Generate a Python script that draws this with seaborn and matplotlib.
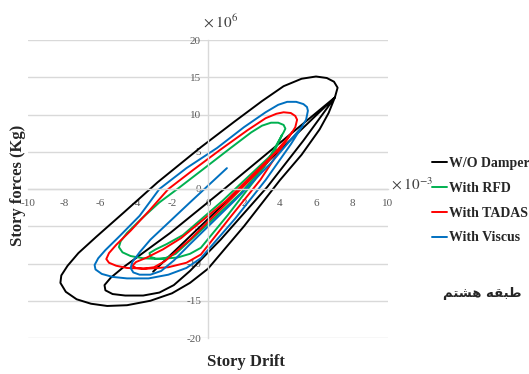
import pandas as pd
import matplotlib
matplotlib.use('Agg')
import matplotlib.pyplot as plt
import seaborn as sns

# Lazos de histéresis (drift x1e-3, fuerza x1e6)
wo_x = [-3.05, 7.05, 5.0, 3.0, 0.5, -2.1, -3.4, -4.7, -5.4, -5.75, -5.7, -5.3, -4.6, -3.6, -2.7, -1.9, -1.0, 0.7, 3.3,
        5.3, 7.05,
        6.7, 6.2, 5.2, 4.0, 2.0, 0.0, -1.0, -2.0, -3.2, -4.5, -5.6, -6.5, -7.3, -7.9, -8.2, -8.15, -7.8, -7.2, -6.2,
        -4.7, -2.8, -0.4, 1.5, 3.0, 4.2, 5.2, 6.0, 6.6, 7.0, 7.2, 7.05]
wo_y = [-11.1, 12.3, 8.2, 4.2, -0.8, -5.9, -8.2, -10.5, -11.9, -12.9, -13.6, -14.1, -14.3, -14.3, -13.9, -12.9, -11.0, -6.8, 0.3,
        6.5, 12.3,
        10.2, 8.0, 4.6, 1.2, -5.0, -10.7, -12.6, -14.0, -15.0, -15.6, -15.7, -15.4, -14.8, -13.8, -12.6, -11.6, -10.3, -8.6, -6.4,
        -3.2, 0.9, 5.6, 9.1, 11.8, 13.8, 14.8, 15.1, 14.9, 14.4, 13.6, 12.3]

rfd_x = [3.8, 0.8, -1.4, -2.3, -2.9, -3.25, -3.2, -2.9, -2.4, -1.8, -0.4, 1.8, 3.2, 4.1,
         3.6, 2.6, 1.1, -0.4, -1.0, -1.7, -2.7, -3.6, -4.3, -4.75, -4.95, -4.85, -4.5, -3.7, -2.7, -1.7, -0.3, 1.2,
         2.4, 3.0, 3.5, 3.9, 4.2, 4.3, 4.2, 4.1]
rfd_y = [5.2, -1.6, -6.2, -7.4, -8.1, -8.6, -9.1, -9.35, -9.3, -8.7, -5.6, -0.6, 3.3, 7.2,
         4.6, 1.2, -3.5, -7.9, -8.7, -9.2, -9.4, -9.3, -9.0, -8.5, -7.8, -7.0, -5.9, -4.0, -1.8, 0.0, 2.6, 5.4,
         7.6, 8.5, 8.9, 8.9, 8.6, 8.1, 7.6, 7.2]

tadas_x = [4.2, 1.0, -1.5, -2.5, -3.4, -4.0, -4.2, -4.0, -3.6, -3.0, -2.4, -1.0, 1.5, 3.3, 4.67,
           4.1, 2.9, 1.2, -0.4, -1.2, -2.2, -3.4, -4.5, -5.1, -5.5, -5.65, -5.5, -5.1, -4.3, -3.3, -2.2, -0.8, 0.7,
           2.2, 3.2, 3.8, 4.2, 4.6, 4.85, 4.95, 4.85, 4.67]
tadas_y = [6.0, -1.6, -6.6, -8.1, -9.2, -9.8, -10.3, -10.6, -10.7, -10.5, -9.7, -6.8, -0.8, 3.6, 7.6,
           5.6, 1.2, -3.9, -8.8, -9.9, -10.5, -10.7, -10.6, -10.3, -9.9, -9.4, -8.6, -7.5, -5.6, -3.0, 0.0, 2.6, 5.3,
           7.9, 9.5, 10.1, 10.3, 10.2, 9.8, 9.3, 8.3, 7.6]

viscus_x = [1.05, -1.0, -3.2, -3.8, -4.2, -4.3, -4.15, -3.8, -3.2, -2.6, -1.9, -1.0, 1.5, 3.5, 5.2,
            4.6, 3.2, 1.5, -0.4, -1.2, -2.2, -3.3, -4.5, -5.3, -5.9, -6.25, -6.3, -6.1, -5.7, -4.9, -3.8, -2.7, -1.2,
            0.5, 2.0, 3.2, 3.9, 4.4, 4.9, 5.3, 5.5, 5.55, 5.45, 5.2]
viscus_y = [2.8, -1.8, -6.8, -8.5, -9.8, -10.6, -11.2, -11.5, -11.5, -11.0, -9.6, -7.4, -1.5, 3.5, 8.3,
            6.0, 1.2, -4.0, -9.3, -10.6, -11.5, -12.0, -12.0, -11.8, -11.4, -10.8, -10.2, -9.3, -8.2, -6.3, -3.6, 0.0, 2.8,
            5.5, 8.3, 10.3, 11.3, 11.7, 11.7, 11.4, 11.0, 10.5, 9.3, 8.3]

series_names = ['W/O Damper', 'With RFD', 'With TADAS', 'With Viscus']
series_colors = ['#000000', '#00b050', '#ff0000', '#0070c0']
y_ticks = [-20, -15, -10, -5, 0, 5, 10, 15, 20]
x_ticks = [-10, -8, -6, -4, -2, 0, 2, 4, 6, 8, 10]
piso = 'طبقه هشتم'

# Formas de presentación árabes (matplotlib no hace el "shaping")
formas = {'ط': '\ufec1\ufec2\ufec3\ufec4', 'ب': '\ufe8f\ufe90\ufe91\ufe92', 'ق': '\ufed5\ufed6\ufed7\ufed8',
          'ه': '\ufee9\ufeea\ufeeb\ufeec', 'ش': '\ufeb5\ufeb6\ufeb7\ufeb8', 'ت': '\ufe95\ufe96\ufe97\ufe98',
          'م': '\ufee1\ufee2\ufee3\ufee4'}


def dar_forma(palabra):
    letras = []
    for i, c in enumerate(palabra):
        antes = i > 0
        despues = i < len(palabra) - 1
        idx = 3 if (antes and despues) else 1 if antes else 2 if despues else 0
        letras.append(formas[c][idx] if c in formas else c)
    return ''.join(reversed(letras))


piso_vis = ' '.join(dar_forma(p) for p in reversed(piso.split()))

frames = []
for name, xs, ys in zip(series_names, [wo_x, rfd_x, tadas_x, viscus_x], [wo_y, rfd_y, tadas_y, viscus_y]):
    frames.append(pd.DataFrame({'Drift': xs, 'Force': ys, 'Serie': name}))
datos = pd.concat(frames, ignore_index=True)

sns.set_style('white')
plt.rcParams['font.family'] = ['Liberation Serif', 'DejaVu Sans']
plt.rcParams['mathtext.fontset'] = 'stix'
plt.rcParams['axes.unicode_minus'] = False

fig = plt.figure(figsize=(5.29, 3.74), dpi=100)
ax = fig.add_axes([28 / 529, 36 / 374, 360 / 529, 298 / 374])

for yv in y_ticks:
    ax.axhline(yv, color='#d9d9d9', lw=1.0, zorder=0)

sns.lineplot(data=datos, x='Drift', y='Force', hue='Serie', hue_order=series_names,
             palette=series_colors, sort=False, estimator=None, units='Serie',
             lw=1.4, ax=ax, legend=True)

ax.set_xlim(-10, 10)
ax.set_ylim(-20, 20)
ax.set_xticks(x_ticks)
ax.set_yticks(y_ticks)
ax.spines['left'].set_position('zero')
ax.spines['bottom'].set_position('zero')
ax.spines['right'].set_visible(False)
ax.spines['top'].set_visible(False)
for s in ['left', 'bottom']:
    ax.spines[s].set_color('#d9d9d9')
    ax.spines[s].set_linewidth(1.0)
ax.tick_params(length=0, labelsize=8, labelcolor='#595959')
ax.tick_params(axis='x', pad=7)
ax.tick_params(axis='y', pad=5)
ax.set_xlabel('')
ax.set_ylabel('')

fig.text(203 / 529, 1 - 22 / 374, r'$\times\;10^{6}$', fontsize=11, color='#404040', va='center', ha='left')
fig.text(391 / 529, 1 - 184 / 374, r'$\times\;10^{-3}$', fontsize=11, color='#404040', va='center', ha='left')

fig.text(246 / 529, 1 - 362 / 374, 'Story Drift', fontsize=12, fontweight='bold', ha='center', va='center')
fig.text(18 / 529, 1 - 185 / 374, 'Story forces (Kg)', fontsize=12, fontweight='bold', rotation=90,
         ha='center', va='center')

handles, labels = ax.get_legend_handles_labels()
ax.legend_.remove()
fig.legend(handles, labels, loc='upper left', bbox_to_anchor=(432 / 529, 1 - 157 / 374), frameon=False,
           borderaxespad=0, borderpad=0, handlelength=1.1, handletextpad=0.15, labelspacing=0.85,
           prop={'family': 'Liberation Serif', 'weight': 'bold', 'size': 10})

fig.text(482 / 529, 1 - 293 / 374, piso_vis, fontsize=9.5, fontweight='bold', family=['DejaVu Sans'],
         ha='center', va='center')

fig.savefig('out.png', dpi=100)
plt.close()
